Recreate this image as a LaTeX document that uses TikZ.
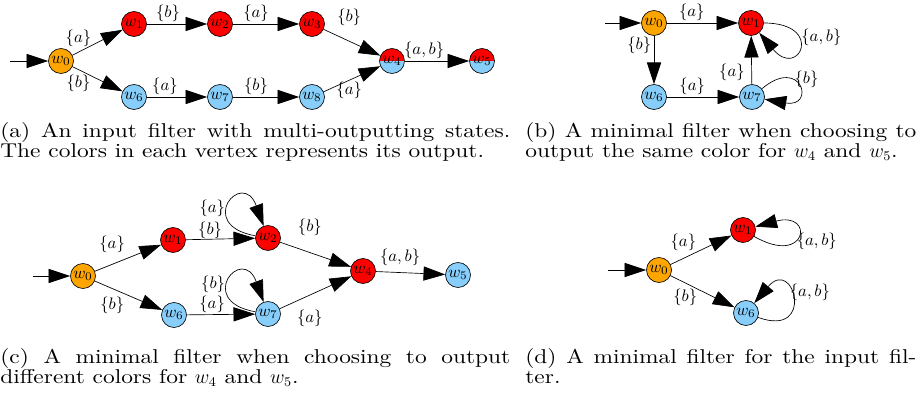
\documentclass[tikz,border=0pt]{standalone}
\usepackage{amsmath, amssymb}
\usepackage{fontspec}
\usepackage{xcolor}
\usetikzlibrary{arrows.meta}
\newfontfamily\captfont[FakeStretch=1.17]{lmroman10-regular.otf}
\definecolor{outorange}{RGB}{255,165,0}
\definecolor{outred}{RGB}{255,0,0}
\definecolor{outblue}{RGB}{135,206,250}

\begin{document}
\begin{tikzpicture}[x=0.6pt,y=-0.6pt,>={Triangle[length=13pt,width=8.5pt]},
  state/.style={circle,draw,minimum size=15pt,inner sep=0pt},
  st0/.style={state,fill=outorange},
  stred/.style={state,fill=outred},
  stblue/.style={state,fill=outblue},
  stsplit/.style={state,path picture={
    \fill[outblue] (path picture bounding box.west) rectangle (path picture bounding box.south east);
    \fill[outred] (path picture bounding box.west) rectangle (path picture bounding box.north east);}},
  lbl/.style={inner sep=1pt},
  capt/.style={anchor=north west,inner sep=0pt,align=justify,
    font=\captfont\fontsize{12pt}{12.4pt}\selectfont}]
\useasboundingbox (0,0) rectangle (924,405);

% (a)
\coordinate (a0) at (10,61);
\node[st0] (aw0) at (61,61) {$w_0$};
\node[stred] (aw1) at (134,24) {$w_1$};
\node[stred] (aw2) at (220,24) {$w_2$};
\node[stred] (aw3) at (312,24) {$w_3$};
\node[stsplit] (aw4) at (392,61) {$w_4$};
\node[stsplit] (aw5) at (482,61) {$w_5$};
\node[stblue] (aw6) at (134,97) {$w_6$};
\node[stblue] (aw7) at (220,97) {$w_7$};
\node[stblue] (aw8) at (312,97) {$w_8$};
\draw[->] (a0) -- (aw0);
\draw[->] (aw0) -- node[lbl,pos=.12,above=2pt] {$\{a\}$} (aw1);
\draw[->] (aw0) -- node[lbl,pos=.12,below=2pt] {$\{b\}$} (aw6);
\draw[->] (aw1) -- node[lbl,pos=.35,above] {$\{b\}$} (aw2);
\draw[->] (aw2) -- node[lbl,pos=.35,above] {$\{a\}$} (aw3);
\draw[->] (aw3) -- node[lbl,pos=.45,above=8pt] {$\{b\}$} (aw4);
\draw[->] (aw8) -- node[lbl,pos=.45,below] {$\{a\}$} (aw4);
\draw[->] (aw4) -- node[lbl,pos=.3,above] {$\{a,b\}$} (aw5);
\draw[->] (aw6) -- node[lbl,pos=.3,above] {$\{a\}$} (aw7);
\draw[->] (aw7) -- node[lbl,pos=.35,above] {$\{b\}$} (aw8);
\node[capt,text width=306pt] (capa) at (0,122)
  {(a) An input filter with multi-outputting states.\linebreak The colors in each vertex represents its output.};

% (b)
\coordinate (b0) at (605,23);
\node[st0] (bw0) at (654,23) {$w_0$};
\node[stred] (bw1) at (751,23) {$w_1$};
\node[stblue] (bw6) at (654,97) {$w_6$};
\node[stblue] (bw7) at (752,97) {$w_7$};
\draw[->] (b0) -- (bw0);
\draw[->] (bw0) -- node[lbl,pos=.35,above] {$\{a\}$} (bw1);
\draw[->] (bw0) -- node[lbl,pos=.2,left=0.5pt] {$\{b\}$} (bw6);
\draw[->] (bw6) -- node[lbl,pos=.35,above] {$\{a\}$} (bw7);
\draw[->] (bw7) -- node[lbl,pos=.25,left=3pt] {$\{a\}$} (bw1);
\draw[->] (bw1) to[out=0,in=-50,distance=13mm] node[lbl,pos=.35,right] {$\{a,b\}$} (bw1);
\draw[->] (bw7) to[out=40,in=-10,distance=11mm] node[lbl,pos=.35,right] {$\{b\}$} (bw7);
\node[capt,text width=234.6pt] (capb) at (525,122)
  {(b) A minimal filter when choosing to\linebreak output the same color for $w_4$ and $w_5$.};

% (c)
\coordinate (c0) at (33,276);
\node[st0] (cw0) at (83,276) {$w_0$};
\node[stred] (cw1) at (173,240) {$w_1$};
\node[stred] (cw2) at (268,238) {$w_2$};
\node[stred] (cw4) at (363,271) {$w_4$};
\node[stblue] (cw5) at (458,275) {$w_5$};
\node[stblue] (cw6) at (174,315) {$w_6$};
\node[stblue] (cw7) at (268,314) {$w_7$};
\draw[->] (c0) -- (cw0);
\draw[->] (cw0) -- node[lbl,pos=.26,above=6pt] {$\{a\}$} (cw1);
\draw[->] (cw0) -- node[lbl,pos=.26,below=4pt] {$\{b\}$} (cw6);
\draw[->] (cw1) -- node[lbl,pos=.35,above=-1pt] {$\{b\}$} (cw2);
\draw[->] (cw2) -- node[lbl,pos=.42,above=9pt] {$\{b\}$} (cw4);
\draw[->] (cw7) -- node[lbl,pos=.42,below=8pt] {$\{a\}$} (cw4);
\draw[->] (cw6) -- node[lbl,pos=.37,above] {$\{a\}$} (cw7);
\draw[->] (cw4) -- node[lbl,pos=.35,above=3pt] {$\{a,b\}$} (cw5);
\draw[->] (cw2) to[out=170,in=110,distance=13mm] node[lbl,pos=.45,left] {$\{a\}$} (cw2);
\draw[->] (cw7) to[out=170,in=110,distance=13mm] node[lbl,pos=.45,left] {$\{b\}$} (cw7);
\node[capt,text width=306pt] (capc) at (0,348)
  {(c) A minimal filter when choosing to output\linebreak different colors for $w_4$ and $w_5$.};

% (d)
\coordinate (d0) at (608,270);
\node[st0] (dw0) at (659,270) {$w_0$};
\node[stred] (dw1) at (743,230) {$w_1$};
\node[stblue] (dw6) at (746,313) {$w_6$};
\draw[->] (d0) -- (dw0);
\draw[->] (dw0) -- node[lbl,pos=.21,above=3.5pt] {$\{a\}$} (dw1);
\draw[->] (dw0) -- node[lbl,pos=.23,below=2.5pt] {$\{b\}$} (dw6);
\draw[->] (dw1) to[out=-30,in=15,distance=13mm] node[lbl,pos=.4,right] {$\{a,b\}$} (dw1);
\draw[->] (dw6) to[out=-20,in=50,distance=13mm] node[lbl,pos=.63,right] {$\{a,b\}$} (dw6);
\node[capt,text width=234.6pt] (capd) at (525,348)
  {(d) A minimal filter for the input fil-\linebreak ter.};
\end{tikzpicture}
\end{document}
